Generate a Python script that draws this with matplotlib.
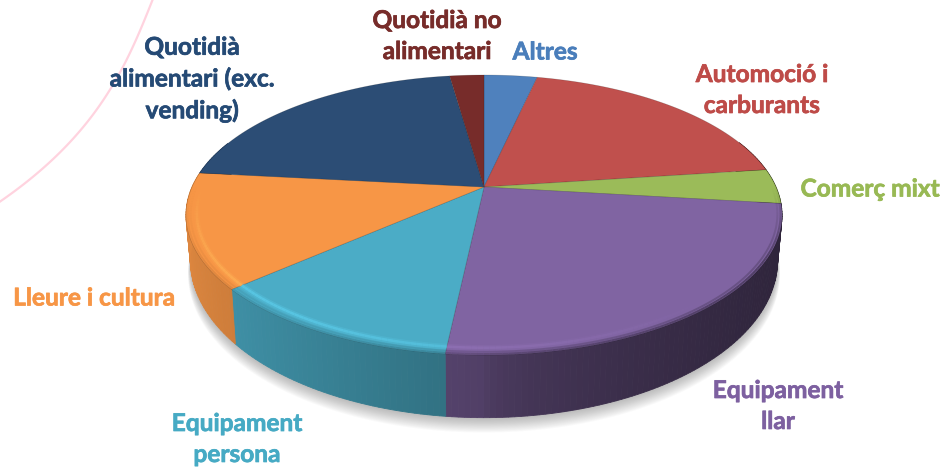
import numpy as np
import matplotlib
matplotlib.use("Agg")
import matplotlib.pyplot as plt
import matplotlib.patheffects as pe
from matplotlib.colors import to_rgb

# Data (share of the pie, clockwise from 12 o'clock)
categories = ["Altres", "Automoció i\ncarburants", "Comerç mixt", "Equipament\nllar",
              "Equipament\npersona", "Lleure i cultura",
              "Quotidià\nalimentari (exc.\nvending)", "Quotidià no\nalimentari"]
values = [3.5, 19.4, 4.0, 24.8, 11.8, 13.2, 21.05, 2.25]
colors = ["#4F81BD", "#C0504D", "#9BBB59", "#8064A2", "#4BACC6", "#F79646", "#2C4D75", "#772C2A"]
text_colors = ["#4A7EBB", "#BE4B48", "#98B954", "#7D60A0", "#46AAC4", "#F79646", "#254A75", "#772C2A"]
label_x = [545, 762, 870, 778, 237, 94, 192, 437]
label_y = [52, 90, 189, 406, 439, 298, 79, 36]

arc_x = [153, 133, 113, 87, 43, 0]
arc_y = [0, 43, 87, 123, 167, 202]

# Perspective geometry of the disc, in pixels
CX, CY, A, B, K = 484.0, 187.0, 292.0, 134.4, 0.2
W, H = 943, 469


def top(theta, r=1.0):
    x, y = r * np.sin(theta), r * np.cos(theta)
    w = 1 + K * y
    return CX + A * x / w, CY - B * y / w


def bottom(theta, scale=1.0, dy=0.0):
    x, y = np.sin(theta), np.cos(theta)
    w = 1 + K * y
    yy = -B * y / w
    return CX + 0.985 * scale * A * x / w, CY + 42 + 1.123 * scale * yy + dy


def shade(u):
    return 0.63 - 0.27 * u if u < 0 else 0.63 - 0.27 * np.sqrt(u)


fig = plt.figure(figsize=(W / 100, H / 100), dpi=100)
ax = fig.add_axes([0, 0, 1, 1])
ax.set_xlim(0, W)
ax.set_ylim(H, 0)
ax.axis("off")

# Pink decorative arc in the background
coef = np.polyfit(arc_y, arc_x, 3)
yy = np.linspace(0, 202, 80)
ax.plot(np.polyval(coef, yy), yy, color="#FFD3DF", lw=1.6, zorder=1)

# Soft shadow
tt = np.linspace(0, 2 * np.pi, 361)
for i in range(14, 0, -1):
    sx, sy = bottom(tt, 1 + i * 0.0006, dy=i * 0.95)
    ax.fill(sx, sy, color="#555555", alpha=0.03, lw=0, zorder=2)

edges = np.radians(np.concatenate([[0], np.cumsum(values)]) / np.sum(values) * 360)

# Side wall, shaded from left to right
for c, a0, a1 in zip(colors, edges[:-1], edges[1:]):
    base = np.array(to_rgb(c))
    n = max(2, int(np.degrees(a1 - a0)))
    th = np.linspace(a0, a1, n + 1)
    for t0, t1 in zip(th[:-1], th[1:]):
        tm = (t0 + t1) / 2
        if np.cos(tm) > 0.35:
            continue
        col = tuple(np.clip(base * shade(np.sin(tm)), 0, 1))
        x0, y0 = top(np.array([t0, t1]))
        x1, y1 = bottom(np.array([t1, t0]))
        ax.fill(np.r_[x0, x1], np.r_[y0, y1], color=col, lw=0.6, zorder=3)

# Top face
for c, a0, a1 in zip(colors, edges[:-1], edges[1:]):
    th = np.linspace(a0, a1, max(3, int(np.degrees(a1 - a0) * 2)))
    x, y = top(th)
    ax.fill(np.r_[CX, x], np.r_[CY, y], facecolor=c, edgecolor="#00000030", lw=0.5, zorder=4)

# Bevel: soft light line and soft transition on the front of the rim
for c, a0, a1 in zip(colors, edges[:-1], edges[1:]):
    base = np.array(to_rgb(c))
    light = np.clip(base * 1.15 + 0.02, 0, 1)
    n = max(2, int(np.degrees(a1 - a0)))
    th = np.linspace(a0, a1, n + 1)
    for t0, t1 in zip(th[:-1], th[1:]):
        tm = (t0 + t1) / 2
        if np.cos(tm) > 0.0:
            continue
        u = np.sin(tm)
        strength = float(np.clip(-np.cos(tm) * 1.5, 0, 1) * np.clip(0.55 - 0.8 * u, 0, 1))
        pair = np.array([t0, t1])
        lx, ly = top(pair, 0.965)
        ax.plot(lx, ly, color=light, lw=4.0, alpha=0.3 * strength, zorder=5, solid_capstyle="butt")
        ax.plot(lx, ly, color=light, lw=1.8, alpha=0.7 * strength, zorder=5, solid_capstyle="butt")
        dark = np.clip(base * shade(u), 0, 1)
        fade = float(np.clip(-np.cos(tm) * 2, 0, 1))
        for r, al in ((0.995, 0.6), (0.985, 0.3)):
            ex, ey = top(pair, r)
            ax.plot(ex, ey, color=tuple(dark), lw=1.4, alpha=al * fade, zorder=5, solid_capstyle="butt")

# Labels
for name, tc, lx, ly in zip(categories, text_colors, label_x, label_y):
    t = ax.text(lx, ly, name, color=tc, ha="center", va="center", ma="center",
                family="Lato", weight="bold", fontsize=17.6, linespacing=1.42, zorder=6)
    t.set_path_effects([pe.withStroke(linewidth=0.5, foreground=tc)])

fig.savefig("out.png", dpi=100, facecolor="white")
